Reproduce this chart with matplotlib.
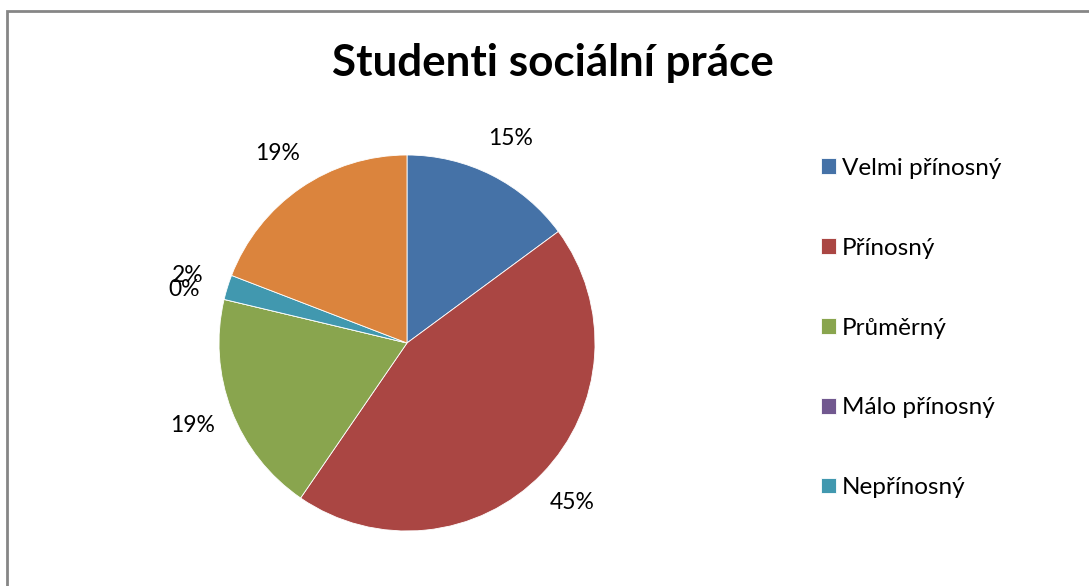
import matplotlib
matplotlib.use('Agg')
import matplotlib.pyplot as plt
from matplotlib.patches import Rectangle

plt.rcParams['font.family'] = ['Lato', 'DejaVu Sans']

# answer counts (Studenti sociální práce)
categories = ['Velmi přínosný', 'Přínosný', 'Průměrný', 'Málo přínosný', 'Nepřínosný', '']
counts = [7, 21, 9, 0, 1, 9]
colors = ['#4572A7', '#AA4643', '#89A54E', '#71588F', '#4198AF', '#DB843D']

W, H = 1089, 586
fig = plt.figure(figsize=(W / 100, H / 100), dpi=100)

# chart border (grey frame, cut off on right and bottom)
fig.patches.append(Rectangle((7 / W, -0.05), 1.1, 1 - 11 / H + 0.05,
                             transform=fig.transFigure, fill=False,
                             edgecolor='#868686', linewidth=2))

fig.text(553 / W, 1 - 63 / H, 'Studenti sociální práce', ha='center', va='center',
         fontsize=31.7, fontweight='bold')

cx, cy, r = 407, 343, 188
ax = fig.add_axes([(cx - r) / W, (H - cy - r) / H, 2 * r / W, 2 * r / H])
wedges, texts, autotexts = ax.pie(counts, colors=colors, startangle=90, counterclock=False,
                                  autopct='%1.0f%%', pctdistance=1.22,
                                  wedgeprops=dict(edgecolor='white', linewidth=0.6),
                                  textprops=dict(fontsize=16.5))
ax.set_xlim(-1, 1)
ax.set_ylim(-1, 1)
ax.set_aspect('equal')

fig.legend(wedges[:5], categories[:5], loc='upper left', bbox_to_anchor=(799 / W, 1 - 136 / H),
           frameon=False, fontsize=17.5, handlelength=0.62, handleheight=0.62,
           handletextpad=0.25, labelspacing=2.42)

fig.savefig('out.png', dpi=100)
